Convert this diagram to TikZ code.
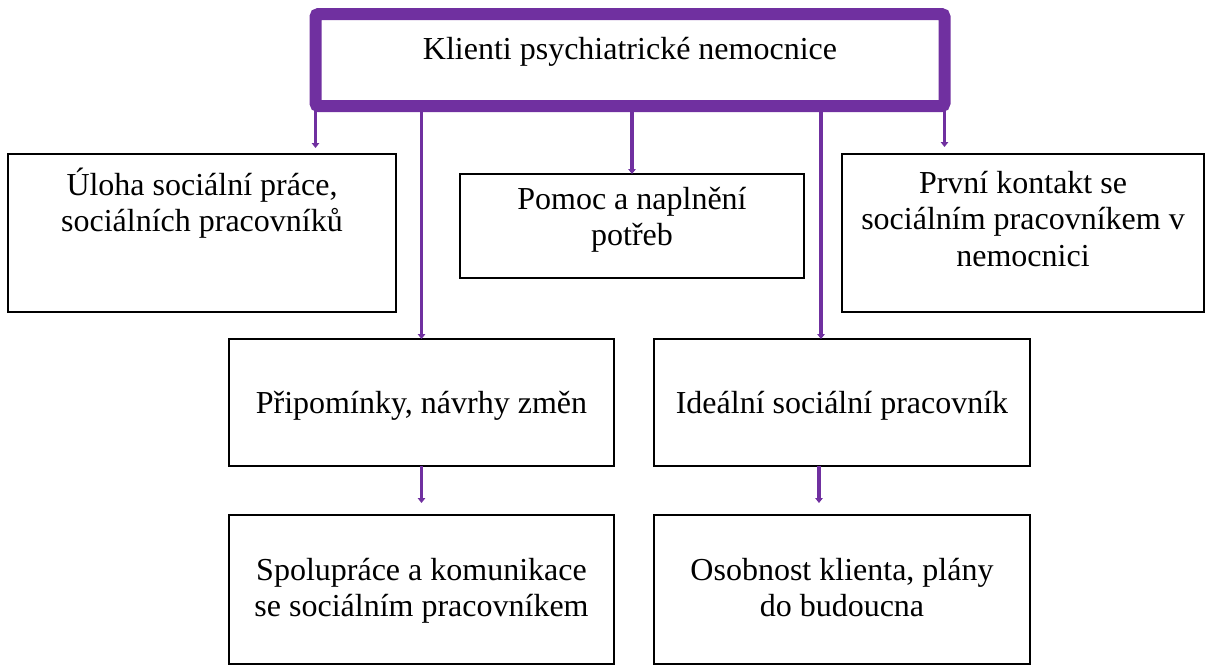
\documentclass[tikz,border=0pt]{standalone}
\usepackage{fontspec}
\setmainfont{Liberation Serif}
\usetikzlibrary{arrows.meta}

\definecolor{klientpurple}{HTML}{7030A0}

\begin{document}
\begin{tikzpicture}[
  x=0.5pt, y=-0.5pt,
  font=\fontsize{16pt}{18.3pt}\selectfont,
  mainbox/.style={
    draw=klientpurple, line width=6pt, rounded corners=1.5pt,
    inner sep=0pt, outer sep=0pt, align=flush center
  },
  topic/.style={
    draw=black, line width=0.7pt, fill=white,
    inner sep=0pt, outer sep=0pt, align=flush center, anchor=north west
  },
  link/.style={-{Triangle[width=3.6pt,length=2.4pt]}, line width=1.8pt, draw=klientpurple},
]

\useasboundingbox (0,0) rectangle (1206,666);

\node[mainbox, anchor=north, text width=314.5pt, text height=22.5pt, text depth=23.5pt]
  (klienti) at (630,14) {Klienti psychiatrické nemocnice};

\node[topic, text width=194pt, text height=20.5pt, text depth=58.5pt]
  (uloha) at (8,154) {Úloha sociální práce,\\sociálních pracovníků};
\node[topic, text width=172pt, text height=17.5pt, text depth=34.5pt]
  (pomoc) at (460,174) {Pomoc a naplnění\\potřeb};
\node[topic, text width=181pt, text height=19.5pt, text depth=59.5pt]
  (kontakt) at (842,154) {První kontakt se\\sociálním pracovníkem v\\nemocnici};

\node[topic, text width=192.5pt, text height=37pt, text depth=26.5pt]
  (pripominky) at (229,339) {Připomínky, návrhy změn};
\node[topic, text width=188pt, text height=37pt, text depth=26.5pt]
  (idealni) at (654,339) {Ideální sociální pracovník};

\node[topic, text width=192.5pt, text height=32.5pt, text depth=42pt]
  (spoluprace) at (229,515) {Spolupráce a komunikace\\se sociálním pracovníkem};
\node[topic, text width=188pt, text height=32.5pt, text depth=42pt]
  (osobnost) at (654,515) {Osobnost klienta, plány\\do budoucna};

\coordinate (idealin) at ([xshift=-10.5pt]idealni.north);

\draw[link] (klienti.south west) -- ([yshift=3pt]uloha.north -| klienti.south west);
\draw[link] (klienti.south -| pripominky.north) -- (pripominky.north);
\draw[link] (klienti.south -| pomoc.north) -- (pomoc.north);
\draw[link] (klienti.south -| idealin) -- (idealin);
\draw[link] (klienti.south east) -- ([yshift=3.5pt]kontakt.north -| klienti.south east);
\draw[link] (pripominky.south) -- ([yshift=6pt]spoluprace.north);
\draw[link] ([xshift=-11.5pt]idealni.south) -- ([xshift=-11.5pt,yshift=6pt]osobnost.north);

\end{tikzpicture}
\end{document}
